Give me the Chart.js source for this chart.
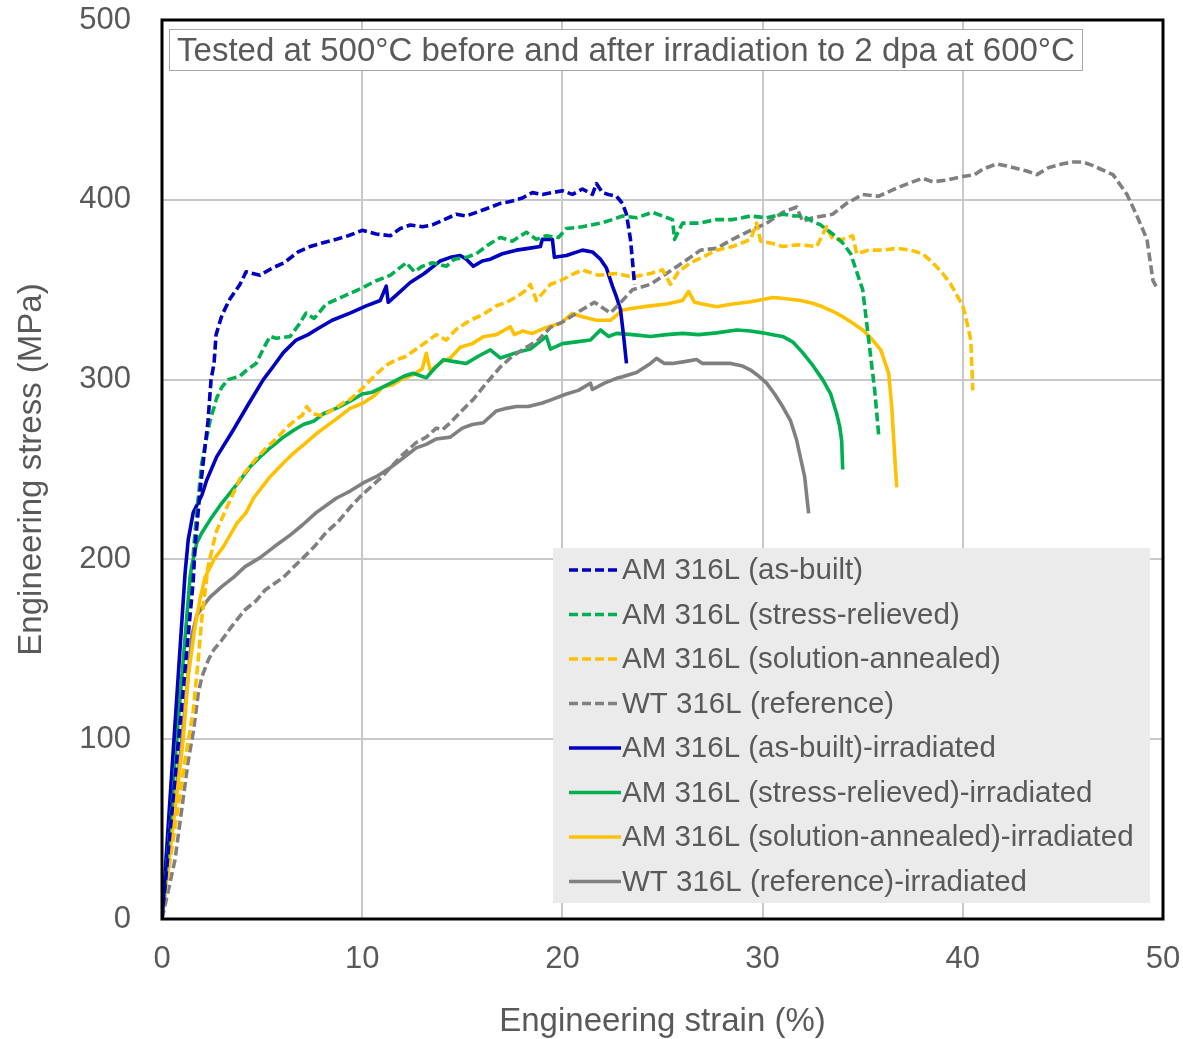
<!DOCTYPE html>
<html>
<head>
<meta charset="utf-8">
<script src="https://cdn.jsdelivr.net/npm/chart.js@4.4.1/dist/chart.umd.min.js"></script>
<style>
  body { margin: 0; background: #fff; }
  #wrap { width: 1183px; height: 1039px; }
</style>
</head>
<body>
<div id="wrap"><canvas id="myChart" width="1183" height="1039"></canvas></div>
<script>
// series names, in legend order
const seriesLabels = [
  'AM 316L (as-built)',
  'AM 316L (stress-relieved)',
  'AM 316L (solution-annealed)',
  'WT 316L (reference)',
  'AM 316L (as-built)-irradiated',
  'AM 316L (stress-relieved)-irradiated',
  'AM 316L (solution-annealed)-irradiated',
  'WT 316L (reference)-irradiated'
];
const chartNote = 'Tested at 500°C before and after irradiation to 2 dpa at 600°C';
const xTitle = 'Engineering strain (%)';
const yTitle = 'Engineering stress (MPa)';
const xTickValues = [0, 10, 20, 30, 40, 50];
const yTickValues = [0, 100, 200, 300, 400, 500];

// [strain %, stress MPa]
const asBuilt = [[0,0],[1.56,188],[1.65,207],[1.9,238],[2.1,258],[2.3,277],[2.45,300],[2.6,309],[2.7,325],[3.0,336],
  [3.4,345],[3.9,353],[4.2,360],[4.9,358],[5.5,362],[6.1,365],[6.8,371],[7.4,374],[8.0,376],[8.7,378],
  [9.3,380],[10.0,383],[10.7,381],[11.4,380],[11.9,384],[12.4,386],[13.0,385],[13.5,386],[14.1,389],[14.7,392],
  [15.2,391],[15.7,393],[16.2,395],[16.9,398],[17.4,399],[18.0,401],[18.5,404],[19.0,403],[19.5,404],[20.0,405],
  [20.5,403],[21.0,406],[21.5,403],[21.7,409],[22.0,404],[22.3,403],[22.7,402],[23.0,398],[23.2,392],[23.4,378],
  [23.5,366],[23.6,353]];
const stressRelieved = [[0,0],[1.5,190],[1.56,203],[1.73,225],[1.98,253],[2.2,266],[2.4,277],[2.74,290],[3.0,296],[3.3,300],
  [3.9,302],[4.2,305],[4.7,309],[5.1,318],[5.4,324],[5.7,323],[6.4,324],[6.8,330],[7.2,337],[7.6,334],
  [8.2,342],[8.8,345],[9.4,348],[10.0,351],[10.7,355],[11.4,358],[12.2,365],[12.6,360],[13.0,363],[13.5,365],
  [14.2,363],[14.6,367],[15.2,368],[15.7,370],[16.3,375],[16.9,379],[17.5,377],[18.2,382],[18.7,378],[19.2,380],
  [19.8,379],[20.2,384],[21.0,385],[21.9,387],[22.5,389],[23.0,391],[23.7,390],[24.5,393],[25.0,391],[25.5,389],
  [25.6,378],[26.0,387],[26.8,387],[27.7,389],[28.5,389],[29.4,391],[30.2,390],[31.0,392],[31.6,391],[32.0,391],
  [32.5,388],[32.9,386],[33.5,381],[34.0,376],[34.4,370],[35.0,350],[35.3,322],[35.6,294],[35.8,269]];
const solutionAnnealed = [[0,0],[0.17,15],[0.65,51],[1.15,88],[1.56,116],[1.81,144],[1.98,166],[2.3,196],[2.57,209],[2.73,216],
  [3.24,229],[3.9,245],[4.7,256],[5.2,262],[5.7,267],[6.2,273],[6.7,278],[7.0,280],[7.23,285],[7.5,281],
  [8.0,280],[8.5,283],[9.05,287],[9.4,289],[10.0,295],[10.7,303],[11.2,308],[11.7,311],[12.2,313],[12.7,317],
  [13.2,321],[13.7,325],[14.2,322],[14.7,328],[15.4,333],[16.0,336],[16.7,341],[17.2,343],[17.7,346],[18.1,349],
  [18.4,353],[18.7,344],[19.4,353],[19.9,355],[20.4,358],[21.0,361],[21.8,358],[22.7,359],[23.5,357],[24.4,359],
  [25.0,361],[25.4,353],[25.8,360],[26.4,365],[27.0,368],[27.7,372],[28.5,374],[29.4,378],[29.7,387],[29.9,377],
  [30.4,376],[31.0,374],[31.8,375],[32.7,374],[33.2,385],[33.5,378],[34.0,378],[34.5,380],[34.7,370],[35.3,372],
  [36.0,372],[36.7,373],[37.4,372],[38.0,370],[38.5,365],[39.0,359],[39.4,353],[40.0,341],[40.2,332],[40.4,322],
  [40.5,294]];
const wtReference = [[0,0],[0.65,33],[1.31,88],[1.58,105],[1.81,125.5],[2.0,135],[2.31,144],[2.6,150],[2.98,155],[3.5,163],
  [4.15,172],[4.7,177],[5.15,183],[6.06,190],[6.6,196],[7.06,201],[7.6,207],[8.2,215],[8.8,221],[9.4,229],
  [10.0,236],[10.4,240],[11.0,246],[11.4,251],[12.0,258],[12.7,265],[13.2,268],[13.7,273],[14.0,272],[14.4,276],
  [15.0,283],[15.55,289],[16.2,298],[16.9,307],[17.5,313],[18.2,318],[18.8,322],[19.4,329],[20.0,332],[21.0,339],
  [21.6,343],[22.4,337],[23.0,344],[23.5,350],[24.4,353],[25.2,359],[26.0,365],[26.9,372],[27.7,373],[28.5,378],
  [29.4,383],[30.2,387],[31.0,393],[31.7,396],[32.0,388],[32.5,390],[33.5,392],[34.2,398],[35.0,403],[35.8,402],
  [36.8,407],[37.5,410],[38.0,412],[38.5,410],[39.2,411],[40.0,413],[40.6,414],[41.0,417],[41.7,420],[42.5,418],
  [43.2,416],[43.7,414],[44.3,418],[45.0,420],[45.5,421],[46.0,421],[46.5,419],[46.9,417],[47.5,414],[48.2,403],
  [48.7,391],[49.2,378],[49.5,355],[49.7,351]];
const asBuiltIrr = [[0,0],[1.15,192],[1.31,211],[1.56,226],[2.0,236],[2.23,244],[2.73,257],[3.56,272],[4.3,286],[5.06,300],
  [5.6,308],[6.06,315],[6.7,322],[7.3,325],[7.73,328],[8.5,333],[9.39,337],[10.2,341],[10.9,344],[11.2,352],
  [11.3,343],[11.8,348],[12.4,354],[13.1,359],[13.9,366],[14.4,368],[14.9,369],[15.2,367],[15.55,363],[16.0,366],
  [16.4,367],[17.0,370],[17.7,372],[18.3,373],[18.9,374],[19.0,378],[19.5,378],[19.6,368],[20.2,369],[21.0,372],
  [21.5,371],[21.9,367],[22.2,362],[22.5,352],[22.7,346],[22.9,339],[23.05,325],[23.2,309]];
const stressRelievedIrr = [[0,0],[1.4,190],[1.48,196],[1.73,209],[2.0,215],[2.4,222],[2.9,230],[3.4,237],[3.9,244],[4.4,251.5],
  [4.9,257],[5.3,261],[6.06,268],[6.6,272],[7.06,275],[7.6,277],[8.06,281],[8.7,284],[9.4,288],[10.0,292],
  [10.5,293],[11.05,296],[11.6,299],[12.1,302],[12.55,303.5],[13.2,301],[13.6,306],[14.05,311],[14.6,310],[15.2,309],
  [15.8,313],[16.4,316.5],[16.9,312],[17.7,315],[18.4,317],[19.2,324],[19.4,317],[20.0,320],[20.7,321],[21.4,322],
  [21.9,327.6],[22.3,324],[22.7,325.7],[23.5,325],[24.4,324],[25.2,325],[26.0,325.7],[26.8,325],[27.7,326],[28.7,327.6],
  [29.4,327],[30.0,326],[30.5,325],[31.0,324],[31.5,321],[32.0,315],[32.5,308],[33.0,300],[33.4,292],[33.7,281],
  [33.85,274],[33.95,266],[34.0,250]];
const solutionAnnealedIrr = [[0,0],[1.06,100],[1.31,135],[1.65,162.5],[1.9,178],[2.15,190],[2.6,200],[3.06,207],[3.74,220],[4.2,226],
  [4.57,234],[5.4,246],[6.1,254],[6.56,259],[7.2,265],[7.72,270],[8.2,274],[8.7,278],[9.4,284],[10.05,287],
  [10.6,291],[11.05,296],[11.5,297],[12.0,300.5],[12.6,303],[13.0,306],[13.2,314.6],[13.4,305],[14.0,310],[14.4,312],
  [14.9,318],[15.5,320],[16.05,323.8],[16.7,325],[17.4,329.4],[17.6,325],[18.0,327],[18.5,325.7],[19.2,329],[19.9,331.3],
  [20.5,336.8],[21.0,335],[21.7,333],[22.4,333],[23.0,338.7],[23.7,340],[24.4,341],[25.2,342],[26.0,344],[26.3,349],
  [26.6,343],[27.0,342],[27.7,340.5],[28.5,342],[29.4,343.3],[30.0,344.5],[30.5,345.7],[31.2,345],[31.9,344],[32.5,342.5],
  [33.0,340.5],[33.5,338],[34.0,335],[34.5,331.5],[35.0,327.6],[35.5,322],[35.9,316.5],[36.3,303.5],[36.45,285],[36.6,257],
  [36.7,240]];
const wtReferenceIrr = [[0,0],[1.0,100],[1.5,158],[1.74,169],[2.15,175.5],[2.4,179],[3.0,185],[3.57,190],[4.15,196],[4.9,201],
  [5.6,207],[6.4,213.5],[7.0,219],[7.7,226],[8.2,230],[8.7,234],[9.4,238],[10.05,242.5],[10.7,246],[11.4,251],
  [12.0,256],[12.7,262],[13.2,264],[13.7,267],[14.4,268],[15.0,273],[15.5,275],[16.05,276],[16.7,282.6],[17.2,284],
  [17.7,285],[18.3,285],[19.0,287],[19.4,288.6],[20.2,292],[20.8,294],[21.4,298],[21.5,294.5],[22.1,298],[22.7,300.7],
  [23.0,301.6],[23.7,304],[24.4,309],[24.7,311.8],[25.1,309],[25.5,309],[26.1,310],[26.7,311.2],[27.0,309],[27.7,309],
  [28.4,309],[29.0,307.5],[29.4,305.3],[29.8,302],[30.2,298],[30.6,292],[31.0,285],[31.4,277],[31.7,266.4],[32.1,246],
  [32.3,225.6]];

const seriesData = [asBuilt, stressRelieved, solutionAnnealed, wtReference,
                    asBuiltIrr, stressRelievedIrr, solutionAnnealedIrr, wtReferenceIrr];
const seriesColors = ['#0000c0', '#00b050', '#ffc000', '#808080', '#0000c0', '#00b050', '#ffc000', '#808080'];
const dashPattern = [9, 4];

Chart.defaults.font.family = '"Liberation Sans", Arial, sans-serif';
Chart.defaults.color = '#595959';

const datasets = seriesLabels.map(function(label, i) {
  return {
    label: label,
    data: seriesData[i].map(p => ({x: p[0], y: p[1]})),
    borderColor: seriesColors[i],
    backgroundColor: seriesColors[i],
    borderWidth: 3.6,
    borderDash: i < 4 ? dashPattern : [],
    borderJoinStyle: 'round',
    showLine: true,
    pointRadius: 0,
    fill: false,
    tension: 0
  };
});

// no extra room for the edge tick labels, the plot fills its box
function noLabelPadding(s) {
  s.paddingTop = 0; s.paddingBottom = 0; s.paddingLeft = 0; s.paddingRight = 0;
}

// frame, note box and legend drawn on top of the plot
const plotExtras = {
  id: 'plotExtras',
  afterDraw(chart) {
    const ctx = chart.ctx;
    const a = chart.chartArea;
    ctx.save();
    ctx.strokeStyle = '#000';
    ctx.lineWidth = 3;
    ctx.strokeRect(a.left, a.top, a.right - a.left, a.bottom - a.top);

    // note box
    ctx.fillStyle = '#fff';
    ctx.fillRect(169, 29, 913, 42);
    ctx.strokeStyle = '#a6a6a6';
    ctx.lineWidth = 1;
    ctx.strokeRect(169.5, 29.5, 913, 41);
    ctx.fillStyle = '#595959';
    ctx.font = '33px "Liberation Sans", Arial, sans-serif';
    ctx.textAlign = 'center';
    ctx.textBaseline = 'alphabetic';
    ctx.fillText(chartNote, 626, 61);

    // legend
    ctx.fillStyle = '#ebebeb';
    ctx.fillRect(553, 548, 597, 355);
    ctx.font = '29.5px "Liberation Sans", Arial, sans-serif';
    ctx.textAlign = 'left';
    ctx.textBaseline = 'middle';
    chart.data.datasets.forEach(function(ds, i) {
      const y = 570 + i * 44.5;
      ctx.beginPath();
      ctx.setLineDash(ds.borderDash);
      ctx.strokeStyle = ds.borderColor;
      ctx.lineWidth = 3.6;
      ctx.moveTo(569, y);
      ctx.lineTo(621, y);
      ctx.stroke();
      ctx.setLineDash([]);
      ctx.fillStyle = '#595959';
      ctx.fillText(ds.label, 622, y + 1);
    });
    ctx.restore();
  }
};

const ctx = document.getElementById('myChart');
const stressChart = new Chart(ctx, {
  type: 'scatter',
  data: { datasets: datasets },
  options: {
    responsive: false,
    animation: false,
    layout: { padding: { top: 20, right: 20, bottom: 0, left: 0 } },
    plugins: {
      legend: { display: false },
      tooltip: { enabled: false }
    },
    scales: {
      x: {
        type: 'linear', min: 0, max: 50,
        afterBuildTicks: s => { s.ticks = xTickValues.map(v => ({value: v})); },
        afterFit: s => { s.height = 120; noLabelPadding(s); },
        grid: { color: '#c8c8c8', lineWidth: 2, drawTicks: false },
        border: { display: false },
        ticks: { padding: 22, font: { size: 31 }, color: '#595959' },
        title: { display: true, text: xTitle, color: '#595959',
                 font: { size: 33, lineHeight: 1 }, padding: { top: 0, bottom: 1 } }
      },
      y: {
        type: 'linear', min: 0, max: 500,
        afterBuildTicks: s => { s.ticks = yTickValues.map(v => ({value: v})); },
        afterFit: s => { s.width = 162; noLabelPadding(s); },
        grid: { color: '#c8c8c8', lineWidth: 2, drawTicks: false },
        border: { display: false },
        ticks: { padding: 31, font: { size: 31 }, color: '#595959' },
        title: { display: true, text: yTitle, color: '#595959',
                 font: { size: 33, lineHeight: 1 }, padding: { top: 15, bottom: 0 } }
      }
    }
  },
  plugins: [plotExtras]
});
</script>
</body>
</html>
